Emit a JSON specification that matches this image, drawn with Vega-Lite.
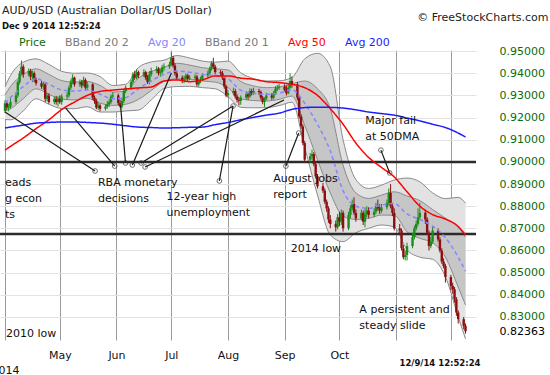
{
"$schema": "https://vega.github.io/schema/vega-lite/v6.json",
"width": 476, "height": 290,
"autosize": {"type": "none"},
"padding": {"left": 0, "top": 50, "right": 74, "bottom": 35},
"background": "white",
"config": {
  "view": {"stroke": null},
  "font": "DejaVu Sans",
  "axis": {"labelFont": "DejaVu Sans", "titleFont": "DejaVu Sans", "labelOverlap": false},
  "legend": {"labelFont": "DejaVu Sans"},
  "title": {"font": "DejaVu Sans", "subtitleFont": "DejaVu Sans"}
},
"title": {"text": "AUD/USD (Australian Dollar/US Dollar)", "subtitle": "Dec 9 2014 12:52:24", "anchor": "start", "frame": "group", "orient": "top", "fontSize": 11, "fontWeight": "normal", "color": "#222222", "subtitleFontSize": 8.5, "subtitleFontWeight": "bold", "subtitleColor": "#111111", "subtitlePadding": 6, "offset": 17, "dx": 2, "dy": 36},
"datasets": {
"candles": [
{"d":"2014-04-01","o":0.9230,"h":0.9280,"l":0.9220,"c":0.9265},
{"d":"2014-04-02","o":0.9265,"h":0.9275,"l":0.9235,"c":0.9245},
{"d":"2014-04-03","o":0.9245,"h":0.9262,"l":0.9228,"c":0.9250},
{"d":"2014-04-04","o":0.9250,"h":0.9292,"l":0.9240,"c":0.9270},
{"d":"2014-04-07","o":0.9270,"h":0.9310,"l":0.9262,"c":0.9300},
{"d":"2014-04-08","o":0.9300,"h":0.9368,"l":0.9290,"c":0.9360},
{"d":"2014-04-09","o":0.9360,"h":0.9410,"l":0.9350,"c":0.9400},
{"d":"2014-04-10","o":0.9400,"h":0.9458,"l":0.9392,"c":0.9430},
{"d":"2014-04-11","o":0.9430,"h":0.9440,"l":0.9380,"c":0.9395},
{"d":"2014-04-14","o":0.9395,"h":0.9422,"l":0.9385,"c":0.9410},
{"d":"2014-04-15","o":0.9410,"h":0.9420,"l":0.9370,"c":0.9385},
{"d":"2014-04-16","o":0.9385,"h":0.9412,"l":0.9360,"c":0.9400},
{"d":"2014-04-17","o":0.9400,"h":0.9408,"l":0.9360,"c":0.9370},
{"d":"2014-04-18","o":0.9370,"h":0.9380,"l":0.9345,"c":0.9355},
{"d":"2014-04-21","o":0.9355,"h":0.9365,"l":0.9330,"c":0.9340},
{"d":"2014-04-22","o":0.9340,"h":0.9362,"l":0.9325,"c":0.9350},
{"d":"2014-04-23","o":0.9350,"h":0.9358,"l":0.9270,"c":0.9285},
{"d":"2014-04-24","o":0.9285,"h":0.9312,"l":0.9275,"c":0.9300},
{"d":"2014-04-25","o":0.9300,"h":0.9310,"l":0.9262,"c":0.9270},
{"d":"2014-04-28","o":0.9270,"h":0.9295,"l":0.9260,"c":0.9285},
{"d":"2014-04-29","o":0.9285,"h":0.9298,"l":0.9258,"c":0.9270},
{"d":"2014-04-30","o":0.9270,"h":0.9296,"l":0.9250,"c":0.9285},
{"d":"2014-05-01","o":0.9285,"h":0.9300,"l":0.9262,"c":0.9270},
{"d":"2014-05-02","o":0.9270,"h":0.9305,"l":0.9258,"c":0.9295},
{"d":"2014-05-05","o":0.9295,"h":0.9315,"l":0.9280,"c":0.9300},
{"d":"2014-05-06","o":0.9300,"h":0.9345,"l":0.9290,"c":0.9335},
{"d":"2014-05-07","o":0.9335,"h":0.9372,"l":0.9325,"c":0.9360},
{"d":"2014-05-08","o":0.9360,"h":0.9395,"l":0.9350,"c":0.9380},
{"d":"2014-05-09","o":0.9380,"h":0.9385,"l":0.9340,"c":0.9350},
{"d":"2014-05-12","o":0.9350,"h":0.9372,"l":0.9338,"c":0.9360},
{"d":"2014-05-13","o":0.9360,"h":0.9370,"l":0.9332,"c":0.9345},
{"d":"2014-05-14","o":0.9345,"h":0.9385,"l":0.9340,"c":0.9370},
{"d":"2014-05-15","o":0.9370,"h":0.9378,"l":0.9322,"c":0.9335},
{"d":"2014-05-16","o":0.9335,"h":0.9362,"l":0.9325,"c":0.9350},
{"d":"2014-05-19","o":0.9350,"h":0.9355,"l":0.9280,"c":0.9290},
{"d":"2014-05-20","o":0.9290,"h":0.9300,"l":0.9262,"c":0.9275},
{"d":"2014-05-21","o":0.9275,"h":0.9285,"l":0.9238,"c":0.9245},
{"d":"2014-05-22","o":0.9245,"h":0.9268,"l":0.9235,"c":0.9255},
{"d":"2014-05-23","o":0.9255,"h":0.9262,"l":0.9228,"c":0.9240},
{"d":"2014-05-26","o":0.9240,"h":0.9260,"l":0.9232,"c":0.9250},
{"d":"2014-05-27","o":0.9250,"h":0.9275,"l":0.9240,"c":0.9260},
{"d":"2014-05-28","o":0.9260,"h":0.9282,"l":0.9248,"c":0.9270},
{"d":"2014-05-29","o":0.9270,"h":0.9305,"l":0.9262,"c":0.9295},
{"d":"2014-05-30","o":0.9295,"h":0.9315,"l":0.9285,"c":0.9300},
{"d":"2014-06-02","o":0.9300,"h":0.9308,"l":0.9255,"c":0.9265},
{"d":"2014-06-03","o":0.9265,"h":0.9280,"l":0.9245,"c":0.9250},
{"d":"2014-06-04","o":0.9250,"h":0.9290,"l":0.9242,"c":0.9275},
{"d":"2014-06-05","o":0.9275,"h":0.9330,"l":0.9265,"c":0.9320},
{"d":"2014-06-06","o":0.9320,"h":0.9345,"l":0.9310,"c":0.9335},
{"d":"2014-06-09","o":0.9335,"h":0.9370,"l":0.9325,"c":0.9360},
{"d":"2014-06-10","o":0.9360,"h":0.9405,"l":0.9350,"c":0.9395},
{"d":"2014-06-11","o":0.9395,"h":0.9410,"l":0.9370,"c":0.9380},
{"d":"2014-06-12","o":0.9380,"h":0.9418,"l":0.9372,"c":0.9405},
{"d":"2014-06-13","o":0.9405,"h":0.9412,"l":0.9378,"c":0.9390},
{"d":"2014-06-16","o":0.9390,"h":0.9418,"l":0.9382,"c":0.9405},
{"d":"2014-06-17","o":0.9405,"h":0.9412,"l":0.9370,"c":0.9380},
{"d":"2014-06-18","o":0.9380,"h":0.9392,"l":0.9352,"c":0.9360},
{"d":"2014-06-19","o":0.9360,"h":0.9410,"l":0.9350,"c":0.9395},
{"d":"2014-06-20","o":0.9395,"h":0.9425,"l":0.9385,"c":0.9410},
{"d":"2014-06-23","o":0.9410,"h":0.9432,"l":0.9400,"c":0.9420},
{"d":"2014-06-24","o":0.9420,"h":0.9428,"l":0.9390,"c":0.9400},
{"d":"2014-06-25","o":0.9400,"h":0.9418,"l":0.9385,"c":0.9405},
{"d":"2014-06-26","o":0.9405,"h":0.9438,"l":0.9395,"c":0.9425},
{"d":"2014-06-27","o":0.9425,"h":0.9445,"l":0.9412,"c":0.9430},
{"d":"2014-06-30","o":0.9430,"h":0.9452,"l":0.9420,"c":0.9440},
{"d":"2014-07-01","o":0.9440,"h":0.9498,"l":0.9432,"c":0.9470},
{"d":"2014-07-02","o":0.9470,"h":0.9478,"l":0.9425,"c":0.9435},
{"d":"2014-07-03","o":0.9435,"h":0.9445,"l":0.9390,"c":0.9400},
{"d":"2014-07-04","o":0.9400,"h":0.9410,"l":0.9370,"c":0.9380},
{"d":"2014-07-07","o":0.9380,"h":0.9390,"l":0.9355,"c":0.9365},
{"d":"2014-07-08","o":0.9365,"h":0.9388,"l":0.9355,"c":0.9375},
{"d":"2014-07-09","o":0.9375,"h":0.9400,"l":0.9362,"c":0.9390},
{"d":"2014-07-10","o":0.9390,"h":0.9398,"l":0.9365,"c":0.9375},
{"d":"2014-07-11","o":0.9375,"h":0.9392,"l":0.9368,"c":0.9380},
{"d":"2014-07-14","o":0.9380,"h":0.9395,"l":0.9370,"c":0.9385},
{"d":"2014-07-15","o":0.9385,"h":0.9392,"l":0.9340,"c":0.9350},
{"d":"2014-07-16","o":0.9350,"h":0.9375,"l":0.9340,"c":0.9365},
{"d":"2014-07-17","o":0.9365,"h":0.9385,"l":0.9355,"c":0.9375},
{"d":"2014-07-18","o":0.9375,"h":0.9400,"l":0.9365,"c":0.9390},
{"d":"2014-07-21","o":0.9390,"h":0.9412,"l":0.9380,"c":0.9400},
{"d":"2014-07-22","o":0.9400,"h":0.9430,"l":0.9392,"c":0.9420},
{"d":"2014-07-23","o":0.9420,"h":0.9455,"l":0.9412,"c":0.9445},
{"d":"2014-07-24","o":0.9445,"h":0.9470,"l":0.9420,"c":0.9430},
{"d":"2014-07-25","o":0.9430,"h":0.9438,"l":0.9395,"c":0.9405},
{"d":"2014-07-28","o":0.9405,"h":0.9415,"l":0.9388,"c":0.9400},
{"d":"2014-07-29","o":0.9400,"h":0.9410,"l":0.9370,"c":0.9380},
{"d":"2014-07-30","o":0.9380,"h":0.9388,"l":0.9330,"c":0.9340},
{"d":"2014-07-31","o":0.9340,"h":0.9348,"l":0.9292,"c":0.9300},
{"d":"2014-08-01","o":0.9300,"h":0.9325,"l":0.9290,"c":0.9310},
{"d":"2014-08-04","o":0.9310,"h":0.9335,"l":0.9300,"c":0.9320},
{"d":"2014-08-05","o":0.9320,"h":0.9330,"l":0.9285,"c":0.9295},
{"d":"2014-08-06","o":0.9295,"h":0.9305,"l":0.9268,"c":0.9280},
{"d":"2014-08-07","o":0.9280,"h":0.9290,"l":0.9255,"c":0.9275},
{"d":"2014-08-08","o":0.9275,"h":0.9300,"l":0.9258,"c":0.9290},
{"d":"2014-08-11","o":0.9290,"h":0.9318,"l":0.9282,"c":0.9305},
{"d":"2014-08-12","o":0.9305,"h":0.9315,"l":0.9280,"c":0.9295},
{"d":"2014-08-13","o":0.9295,"h":0.9332,"l":0.9288,"c":0.9320},
{"d":"2014-08-14","o":0.9320,"h":0.9330,"l":0.9300,"c":0.9310},
{"d":"2014-08-15","o":0.9310,"h":0.9335,"l":0.9302,"c":0.9320},
{"d":"2014-08-18","o":0.9320,"h":0.9330,"l":0.9302,"c":0.9315},
{"d":"2014-08-19","o":0.9315,"h":0.9322,"l":0.9280,"c":0.9290},
{"d":"2014-08-20","o":0.9290,"h":0.9298,"l":0.9260,"c":0.9270},
{"d":"2014-08-21","o":0.9270,"h":0.9292,"l":0.9248,"c":0.9285},
{"d":"2014-08-22","o":0.9285,"h":0.9312,"l":0.9278,"c":0.9300},
{"d":"2014-08-25","o":0.9300,"h":0.9310,"l":0.9280,"c":0.9290},
{"d":"2014-08-26","o":0.9290,"h":0.9320,"l":0.9282,"c":0.9310},
{"d":"2014-08-27","o":0.9310,"h":0.9342,"l":0.9302,"c":0.9330},
{"d":"2014-08-28","o":0.9330,"h":0.9348,"l":0.9320,"c":0.9335},
{"d":"2014-08-29","o":0.9335,"h":0.9352,"l":0.9325,"c":0.9340},
{"d":"2014-09-01","o":0.9340,"h":0.9350,"l":0.9318,"c":0.9325},
{"d":"2014-09-02","o":0.9325,"h":0.9345,"l":0.9300,"c":0.9310},
{"d":"2014-09-03","o":0.9310,"h":0.9348,"l":0.9305,"c":0.9335},
{"d":"2014-09-04","o":0.9335,"h":0.9400,"l":0.9330,"c":0.9365},
{"d":"2014-09-05","o":0.9365,"h":0.9385,"l":0.9335,"c":0.9350},
{"d":"2014-09-08","o":0.9350,"h":0.9360,"l":0.9278,"c":0.9290},
{"d":"2014-09-09","o":0.9290,"h":0.9298,"l":0.9195,"c":0.9205},
{"d":"2014-09-10","o":0.9205,"h":0.9215,"l":0.9150,"c":0.9160},
{"d":"2014-09-11","o":0.9160,"h":0.9170,"l":0.9075,"c":0.9085},
{"d":"2014-09-12","o":0.9085,"h":0.9095,"l":0.8998,"c":0.9010},
{"d":"2014-09-15","o":0.9010,"h":0.9040,"l":0.8995,"c":0.9025},
{"d":"2014-09-16","o":0.9025,"h":0.9055,"l":0.9010,"c":0.9035},
{"d":"2014-09-17","o":0.9035,"h":0.9045,"l":0.8980,"c":0.8990},
{"d":"2014-09-18","o":0.8990,"h":0.9000,"l":0.8925,"c":0.8935},
{"d":"2014-09-19","o":0.8935,"h":0.8945,"l":0.8880,"c":0.8890},
{"d":"2014-09-22","o":0.8890,"h":0.8905,"l":0.8860,"c":0.8870},
{"d":"2014-09-23","o":0.8870,"h":0.8880,"l":0.8810,"c":0.8820},
{"d":"2014-09-24","o":0.8820,"h":0.8830,"l":0.8775,"c":0.8790},
{"d":"2014-09-25","o":0.8790,"h":0.8800,"l":0.8725,"c":0.8740},
{"d":"2014-09-26","o":0.8740,"h":0.8760,"l":0.8700,"c":0.8720},
{"d":"2014-09-29","o":0.8720,"h":0.8735,"l":0.8685,"c":0.8705},
{"d":"2014-09-30","o":0.8705,"h":0.8765,"l":0.8695,"c":0.8750},
{"d":"2014-10-01","o":0.8750,"h":0.8775,"l":0.8710,"c":0.8730},
{"d":"2014-10-02","o":0.8730,"h":0.8785,"l":0.8715,"c":0.8770},
{"d":"2014-10-03","o":0.8770,"h":0.8780,"l":0.8685,"c":0.8700},
{"d":"2014-10-06","o":0.8700,"h":0.8775,"l":0.8692,"c":0.8760},
{"d":"2014-10-07","o":0.8760,"h":0.8805,"l":0.8745,"c":0.8790},
{"d":"2014-10-08","o":0.8790,"h":0.8830,"l":0.8780,"c":0.8810},
{"d":"2014-10-09","o":0.8810,"h":0.8840,"l":0.8760,"c":0.8770},
{"d":"2014-10-10","o":0.8770,"h":0.8785,"l":0.8730,"c":0.8745},
{"d":"2014-10-13","o":0.8745,"h":0.8785,"l":0.8735,"c":0.8770},
{"d":"2014-10-14","o":0.8770,"h":0.8780,"l":0.8715,"c":0.8730},
{"d":"2014-10-15","o":0.8730,"h":0.8790,"l":0.8705,"c":0.8765},
{"d":"2014-10-16","o":0.8765,"h":0.8800,"l":0.8750,"c":0.8780},
{"d":"2014-10-17","o":0.8780,"h":0.8795,"l":0.8745,"c":0.8760},
{"d":"2014-10-20","o":0.8760,"h":0.8790,"l":0.8750,"c":0.8775},
{"d":"2014-10-21","o":0.8775,"h":0.8815,"l":0.8765,"c":0.8800},
{"d":"2014-10-22","o":0.8800,"h":0.8830,"l":0.8780,"c":0.8790},
{"d":"2014-10-23","o":0.8790,"h":0.8810,"l":0.8765,"c":0.8780},
{"d":"2014-10-24","o":0.8780,"h":0.8810,"l":0.8770,"c":0.8795},
{"d":"2014-10-27","o":0.8795,"h":0.8830,"l":0.8785,"c":0.8815},
{"d":"2014-10-28","o":0.8815,"h":0.8880,"l":0.8805,"c":0.8860},
{"d":"2014-10-29","o":0.8860,"h":0.8900,"l":0.8790,"c":0.8800},
{"d":"2014-10-30","o":0.8800,"h":0.8815,"l":0.8755,"c":0.8770},
{"d":"2014-10-31","o":0.8770,"h":0.8790,"l":0.8690,"c":0.8700},
{"d":"2014-11-03","o":0.8700,"h":0.8720,"l":0.8670,"c":0.8690},
{"d":"2014-11-04","o":0.8690,"h":0.8700,"l":0.8600,"c":0.8610},
{"d":"2014-11-05","o":0.8610,"h":0.8625,"l":0.8560,"c":0.8570},
{"d":"2014-11-06","o":0.8570,"h":0.8600,"l":0.8555,"c":0.8580},
{"d":"2014-11-07","o":0.8580,"h":0.8635,"l":0.8555,"c":0.8620},
{"d":"2014-11-10","o":0.8620,"h":0.8680,"l":0.8610,"c":0.8660},
{"d":"2014-11-11","o":0.8660,"h":0.8712,"l":0.8650,"c":0.8700},
{"d":"2014-11-12","o":0.8700,"h":0.8735,"l":0.8690,"c":0.8720},
{"d":"2014-11-13","o":0.8720,"h":0.8790,"l":0.8710,"c":0.8750},
{"d":"2014-11-14","o":0.8750,"h":0.8815,"l":0.8740,"c":0.8770},
{"d":"2014-11-17","o":0.8770,"h":0.8785,"l":0.8720,"c":0.8740},
{"d":"2014-11-18","o":0.8740,"h":0.8750,"l":0.8670,"c":0.8680},
{"d":"2014-11-19","o":0.8680,"h":0.8690,"l":0.8600,"c":0.8620},
{"d":"2014-11-20","o":0.8620,"h":0.8660,"l":0.8610,"c":0.8640},
{"d":"2014-11-21","o":0.8640,"h":0.8706,"l":0.8630,"c":0.8690},
{"d":"2014-11-24","o":0.8690,"h":0.8700,"l":0.8640,"c":0.8650},
{"d":"2014-11-25","o":0.8650,"h":0.8660,"l":0.8590,"c":0.8600},
{"d":"2014-11-26","o":0.8600,"h":0.8610,"l":0.8540,"c":0.8550},
{"d":"2014-11-27","o":0.8550,"h":0.8565,"l":0.8520,"c":0.8530},
{"d":"2014-11-28","o":0.8530,"h":0.8540,"l":0.8455,"c":0.8480},
{"d":"2014-12-01","o":0.8480,"h":0.8490,"l":0.8420,"c":0.8440},
{"d":"2014-12-02","o":0.8440,"h":0.8455,"l":0.8405,"c":0.8425},
{"d":"2014-12-03","o":0.8425,"h":0.8435,"l":0.8365,"c":0.8380},
{"d":"2014-12-04","o":0.8380,"h":0.8390,"l":0.8305,"c":0.8320},
{"d":"2014-12-05","o":0.8320,"h":0.8330,"l":0.8270,"c":0.8290},
{"d":"2014-12-08","o":0.8290,"h":0.8300,"l":0.8245,"c":0.8260},
{"d":"2014-12-09","o":0.8260,"h":0.8270,"l":0.8225,"c":0.8236}
],
"ind": [
{"d":"2014-04-01","u2":0.9339,"u1":0.9302,"Avg 20":0.9265,"l1":0.9228,"l2":0.9191,"Avg 50":0.9053,"Avg 200":0.9153},
{"d":"2014-04-04","u2":0.9390,"u1":0.9340,"Avg 20":0.9290,"l1":0.9240,"l2":0.9190,"Avg 50":0.9070,"Avg 200":0.9157},
{"d":"2014-04-11","u2":0.9450,"u1":0.9395,"Avg 20":0.9340,"l1":0.9285,"l2":0.9230,"Avg 50":0.9108,"Avg 200":0.9166},
{"d":"2014-04-18","u2":0.9465,"u1":0.9420,"Avg 20":0.9375,"l1":0.9330,"l2":0.9285,"Avg 50":0.9150,"Avg 200":0.9175},
{"d":"2014-04-25","u2":0.9440,"u1":0.9395,"Avg 20":0.9350,"l1":0.9305,"l2":0.9260,"Avg 50":0.9190,"Avg 200":0.9178},
{"d":"2014-05-02","u2":0.9409,"u1":0.9367,"Avg 20":0.9325,"l1":0.9283,"l2":0.9241,"Avg 50":0.9236,"Avg 200":0.9180},
{"d":"2014-05-09","u2":0.9400,"u1":0.9360,"Avg 20":0.9320,"l1":0.9280,"l2":0.9240,"Avg 50":0.9270,"Avg 200":0.9180},
{"d":"2014-05-16","u2":0.9401,"u1":0.9363,"Avg 20":0.9325,"l1":0.9287,"l2":0.9249,"Avg 50":0.9300,"Avg 200":0.9178},
{"d":"2014-05-23","u2":0.9385,"u1":0.9345,"Avg 20":0.9305,"l1":0.9265,"l2":0.9225,"Avg 50":0.9318,"Avg 200":0.9175},
{"d":"2014-05-30","u2":0.9345,"u1":0.9315,"Avg 20":0.9285,"l1":0.9255,"l2":0.9225,"Avg 50":0.9324,"Avg 200":0.9170},
{"d":"2014-06-06","u2":0.9350,"u1":0.9320,"Avg 20":0.9290,"l1":0.9260,"l2":0.9230,"Avg 50":0.9329,"Avg 200":0.9163},
{"d":"2014-06-13","u2":0.9426,"u1":0.9378,"Avg 20":0.9330,"l1":0.9282,"l2":0.9234,"Avg 50":0.9334,"Avg 200":0.9157},
{"d":"2014-06-20","u2":0.9451,"u1":0.9408,"Avg 20":0.9365,"l1":0.9322,"l2":0.9279,"Avg 50":0.9338,"Avg 200":0.9155},
{"d":"2014-06-27","u2":0.9459,"u1":0.9427,"Avg 20":0.9395,"l1":0.9363,"l2":0.9331,"Avg 50":0.9365,"Avg 200":0.9153},
{"d":"2014-07-04","u2":0.9480,"u1":0.9445,"Avg 20":0.9410,"l1":0.9375,"l2":0.9340,"Avg 50":0.9370,"Avg 200":0.9154},
{"d":"2014-07-11","u2":0.9469,"u1":0.9437,"Avg 20":0.9405,"l1":0.9373,"l2":0.9341,"Avg 50":0.9362,"Avg 200":0.9156},
{"d":"2014-07-18","u2":0.9455,"u1":0.9425,"Avg 20":0.9395,"l1":0.9365,"l2":0.9335,"Avg 50":0.9370,"Avg 200":0.9157},
{"d":"2014-07-25","u2":0.9450,"u1":0.9420,"Avg 20":0.9390,"l1":0.9360,"l2":0.9330,"Avg 50":0.9388,"Avg 200":0.9168},
{"d":"2014-08-01","u2":0.9455,"u1":0.9415,"Avg 20":0.9375,"l1":0.9335,"l2":0.9295,"Avg 50":0.9388,"Avg 200":0.9178},
{"d":"2014-08-08","u2":0.9402,"u1":0.9363,"Avg 20":0.9324,"l1":0.9285,"l2":0.9246,"Avg 50":0.9378,"Avg 200":0.9190},
{"d":"2014-08-15","u2":0.9376,"u1":0.9343,"Avg 20":0.9310,"l1":0.9277,"l2":0.9244,"Avg 50":0.9373,"Avg 200":0.9201},
{"d":"2014-08-22","u2":0.9365,"u1":0.9335,"Avg 20":0.9305,"l1":0.9275,"l2":0.9245,"Avg 50":0.9362,"Avg 200":0.9211},
{"d":"2014-08-29","u2":0.9366,"u1":0.9338,"Avg 20":0.9310,"l1":0.9282,"l2":0.9254,"Avg 50":0.9358,"Avg 200":0.9220},
{"d":"2014-09-05","u2":0.9381,"u1":0.9353,"Avg 20":0.9325,"l1":0.9297,"l2":0.9269,"Avg 50":0.9350,"Avg 200":0.9237},
{"d":"2014-09-12","u2":0.9465,"u1":0.9365,"Avg 20":0.9265,"l1":0.9165,"l2":0.9065,"Avg 50":0.9335,"Avg 200":0.9245},
{"d":"2014-09-19","u2":0.9490,"u1":0.9330,"Avg 20":0.9170,"l1":0.9010,"l2":0.8850,"Avg 50":0.9300,"Avg 200":0.9247},
{"d":"2014-09-26","u2":0.9430,"u1":0.9240,"Avg 20":0.9050,"l1":0.8860,"l2":0.8670,"Avg 50":0.9240,"Avg 200":0.9246},
{"d":"2014-10-03","u2":0.9100,"u1":0.8985,"Avg 20":0.8870,"l1":0.8755,"l2":0.8640,"Avg 50":0.9170,"Avg 200":0.9243},
{"d":"2014-10-10","u2":0.8920,"u1":0.8860,"Avg 20":0.8800,"l1":0.8740,"l2":0.8680,"Avg 50":0.9085,"Avg 200":0.9235},
{"d":"2014-10-17","u2":0.8880,"u1":0.8835,"Avg 20":0.8790,"l1":0.8745,"l2":0.8700,"Avg 50":0.9020,"Avg 200":0.9225},
{"d":"2014-10-24","u2":0.8895,"u1":0.8850,"Avg 20":0.8805,"l1":0.8760,"l2":0.8715,"Avg 50":0.8975,"Avg 200":0.9218},
{"d":"2014-10-31","u2":0.8918,"u1":0.8865,"Avg 20":0.8812,"l1":0.8759,"l2":0.8706,"Avg 50":0.8932,"Avg 200":0.9211},
{"d":"2014-11-07","u2":0.8927,"u1":0.8846,"Avg 20":0.8765,"l1":0.8684,"l2":0.8603,"Avg 50":0.8865,"Avg 200":0.9198},
{"d":"2014-11-14","u2":0.8910,"u1":0.8825,"Avg 20":0.8740,"l1":0.8655,"l2":0.8570,"Avg 50":0.8800,"Avg 200":0.9185},
{"d":"2014-11-21","u2":0.8860,"u1":0.8785,"Avg 20":0.8710,"l1":0.8635,"l2":0.8560,"Avg 50":0.8762,"Avg 200":0.9170},
{"d":"2014-11-28","u2":0.8834,"u1":0.8746,"Avg 20":0.8658,"l1":0.8570,"l2":0.8482,"Avg 50":0.8742,"Avg 200":0.9155},
{"d":"2014-12-05","u2":0.8840,"u1":0.8705,"Avg 20":0.8570,"l1":0.8435,"l2":0.8300,"Avg 50":0.8708,"Avg 200":0.9130},
{"d":"2014-12-09","u2":0.8813,"u1":0.8660,"Avg 20":0.8507,"l1":0.8354,"l2":0.8201,"Avg 50":0.8670,"Avg 200":0.9112}
],
"alines": [
{"id":"A","d":"2014-04-01T00:00:00Z","v":0.9225},{"id":"A","d":"2014-05-20T07:00:00Z","v":0.8959},
{"id":"B","d":"2014-05-04T05:00:00Z","v":0.9243},{"id":"B","d":"2014-05-31T01:00:00Z","v":0.8981},
{"id":"C","d":"2014-06-03T05:00:00Z","v":0.9256},{"id":"C","d":"2014-06-05T23:00:00Z","v":0.8995},
{"id":"D","d":"2014-07-01T01:00:00Z","v":0.9401},{"id":"D","d":"2014-06-09T17:00:00Z","v":0.8986},
{"id":"E","d":"2014-08-03T19:00:00Z","v":0.9252},{"id":"E","d":"2014-06-14T12:00:00Z","v":0.8995},
{"id":"F","d":"2014-08-31T16:00:00Z","v":0.9279},{"id":"F","d":"2014-06-16T16:00:00Z","v":0.8977},
{"id":"G","d":"2014-08-03T19:00:00Z","v":0.9252},{"id":"G","d":"2014-07-27T07:00:00Z","v":0.8914},
{"id":"H","d":"2014-09-08T17:00:00Z","v":0.9130},{"id":"H","d":"2014-09-01T17:00:00Z","v":0.8981},
{"id":"I","d":"2014-10-23T17:00:00Z","v":0.9053},{"id":"I","d":"2014-10-28T12:00:00Z","v":0.8950}
],
"acircles": [
{"d":"2014-05-20T07:00:00Z","v":0.8959},{"d":"2014-05-31T01:00:00Z","v":0.8981},
{"d":"2014-06-05T23:00:00Z","v":0.8995},{"d":"2014-06-09T17:00:00Z","v":0.8986},
{"d":"2014-06-14T12:00:00Z","v":0.8995},{"d":"2014-06-16T16:00:00Z","v":0.8977},
{"d":"2014-07-27T07:00:00Z","v":0.8914},{"d":"2014-08-03T19:00:00Z","v":0.9252},
{"d":"2014-09-01T17:00:00Z","v":0.8981},{"d":"2014-09-08T17:00:00Z","v":0.9130},
{"d":"2014-10-23T17:00:00Z","v":0.9053},{"d":"2014-10-28T12:00:00Z","v":0.8950}
],
"texts": [
{"d":"2014-04-01T00:00:00Z","v":0.8889,"t":"eads\ng econ\nts"},
{"d":"2014-05-21T21:00:00Z","v":0.8889,"t":"RBA monetary\ndecisions"},
{"d":"2014-06-28T09:00:00Z","v":0.8830,"t":"12-year high\nunemployment"},
{"d":"2014-08-25T18:00:00Z","v":0.8907,"t":"August jobs\nreport"},
{"d":"2014-10-15T03:00:00Z","v":0.9173,"t":"Major fail\nat 50DMA"},
{"d":"2014-09-04T10:00:00Z","v":0.8591,"t":"2014 low"},
{"d":"2014-10-11T22:00:00Z","v":0.8316,"t":"A persistent and\nsteady slide"},
{"d":"2014-04-01T12:00:00Z","v":0.8208,"t":"2010 low"}
]
},
"layer": [
{"layer": [
  {"data": {"name": "ind"},
   "mark": {"type": "area", "interpolate": "monotone", "color": "#e2e2e2", "opacity": 1},
   "encoding": {
     "x": {"field": "d", "type": "temporal",
       "scale": {"type": "utc", "domain": [{"year": 2014, "month": 4, "date": 1, "utc": true}, {"year": 2014, "month": 12, "date": 12, "utc": true}]},
       "axis": {"title": null, "orient": "bottom", "tickCount": 20,
         "values": [{"year":2014,"month":4,"date":1,"utc":true},{"year":2014,"month":5,"date":1,"utc":true},{"year":2014,"month":6,"date":1,"utc":true},{"year":2014,"month":7,"date":1,"utc":true},{"year":2014,"month":8,"date":1,"utc":true},{"year":2014,"month":9,"date":1,"utc":true},{"year":2014,"month":10,"date":1,"utc":true},{"year":2014,"month":11,"date":1,"utc":true},{"year":2014,"month":12,"date":1,"utc":true}],
         "labelExpr": "utcmonth(datum.value) === 3 ? ['', '2014'] : (utcmonth(datum.value) >= 10 ? '' : utcFormat(datum.value, '%b'))",
         "grid": true, "gridColor": "#9a9a9a", "gridWidth": 1, "ticks": false, "domain": false,
         "labelPadding": 9, "labelFontSize": 11, "labelColor": "#111111", "labelFlush": false, "labelOverlap": false, "labelBound": false, "labelLineHeight": 15, "labelBaseline": "top"}},
     "y": {"field": "u2", "type": "quantitative",
       "scale": {"domain": [0.8196, 0.9505], "nice": false, "zero": false},
       "axis": {"title": null, "orient": "right", "tickCount": 30, "values": [0.83,0.84,0.85,0.86,0.87,0.88,0.89,0.9,0.91,0.92,0.93,0.94,0.95], "format": ".5f",
         "grid": true, "gridColor": "#e3e3e3", "ticks": false, "domain": false, "labelPadding": 23, "labelFontSize": 11, "labelColor": "#0b6b0b", "labelOverlap": false, "labelFlush": false}},
     "y2": {"field": "l2"}
   }},
  {"data": {"name": "ind"},
   "mark": {"type": "area", "interpolate": "monotone", "color": "#c6c6c6", "opacity": 1},
   "encoding": {"x": {"field": "d", "type": "temporal"}, "y": {"field": "u1", "type": "quantitative"}, "y2": {"field": "l1"}}},
  {"data": {"name": "ind"},
   "transform": [{"fold": ["u2", "u1", "l1", "l2"], "as": ["k", "v"]}],
   "mark": {"type": "line", "interpolate": "monotone", "color": "#8a8a8a", "strokeWidth": 1},
   "encoding": {"x": {"field": "d", "type": "temporal"}, "y": {"field": "v", "type": "quantitative"}, "detail": {"field": "k"}}},
  {"data": {"values": [{"lvl": 0.9}, {"lvl": 0.8675}]},
   "mark": {"type": "rule", "color": "#2b2b2b", "strokeWidth": 2.5},
   "encoding": {"y": {"field": "lvl", "type": "quantitative"}}},
  {"data": {"name": "candles"},
   "mark": {"type": "rule", "strokeWidth": 1},
   "encoding": {"x": {"field": "d", "type": "temporal"}, "y": {"field": "l", "type": "quantitative"}, "y2": {"field": "h"},
     "color": {"condition": {"test": "datum.c >= datum.o", "value": "#1a8c1a"}, "value": "#8b0f0f"}}},
  {"data": {"name": "candles"},
   "mark": {"type": "bar", "size": 2.4},
   "encoding": {"x": {"field": "d", "type": "temporal"}, "y": {"field": "o", "type": "quantitative"}, "y2": {"field": "c"},
     "color": {"condition": {"test": "datum.c >= datum.o", "value": "#1a8c1a"}, "value": "#8b0f0f"}}},
  {"data": {"name": "ind"},
   "transform": [{"fold": ["Avg 20", "Avg 50", "Avg 200"], "as": ["k", "v"]}],
   "mark": {"type": "line", "interpolate": "monotone", "strokeWidth": 1.5},
   "encoding": {"x": {"field": "d", "type": "temporal"}, "y": {"field": "v", "type": "quantitative"},
     "color": {"field": "k", "type": "nominal",
       "scale": {"domain": ["Price", "BBand 20 2", "Avg 20", "BBand 20 1", "Avg 50", "Avg 200"], "range": ["#0b6b0b", "#808080", "#8585ff", "#808080", "#ff0000", "#1c1cff"]},
       "legend": {"orient": "none", "legendX": 8, "legendY": -13, "direction": "horizontal", "title": null, "symbolSize": 0, "symbolStrokeWidth": 0, "symbolOpacity": 0, "labelOffset": 0, "columnPadding": 8, "labelFontSize": 11, "padding": 0, "labelLimit": 300,
         "labelColor": {"expr": "datum.label === 'Price' ? '#0b6b0b' : datum.label === 'Avg 20' ? '#8585ff' : datum.label === 'Avg 50' ? '#ff0000' : datum.label === 'Avg 200' ? '#1c1cff' : '#7a7a7a'"}}},
     "strokeDash": {"condition": {"test": "datum.k === 'Avg 20'", "value": [4, 3]}, "value": [1, 0]}}},
  {"data": {"name": "alines"},
   "mark": {"type": "line", "color": "#1a1a1a", "strokeWidth": 1.2},
   "encoding": {"x": {"field": "d", "type": "temporal"}, "y": {"field": "v", "type": "quantitative"}, "detail": {"field": "id"}}},
  {"data": {"name": "acircles"},
   "mark": {"type": "point", "shape": "circle", "filled": false, "color": "#333333", "size": 22, "strokeWidth": 1},
   "encoding": {"x": {"field": "d", "type": "temporal"}, "y": {"field": "v", "type": "quantitative"}}},
  {"data": {"name": "texts"},
   "mark": {"type": "text", "align": "left", "baseline": "alphabetic", "fontSize": 11, "lineBreak": "\n", "lineHeight": 16, "color": "#111111", "font": "DejaVu Sans"},
   "encoding": {"x": {"field": "d", "type": "temporal"}, "y": {"field": "v", "type": "quantitative"}, "text": {"field": "t"}}}
]},
{"data": {"values": [{"d": "2014-12-09T12:52:24Z", "v": 0.82363}]},
 "mark": {"type": "point", "opacity": 0},
 "encoding": {
   "x": {"field": "d", "type": "temporal",
     "axis": {"orient": "bottom", "title": null, "values": [{"year": 2014, "month": 12, "date": 9, "hours": 12, "minutes": 52, "seconds": 24, "utc": true}],
       "labelExpr": "'12/9/14 12:52:24'", "grid": false, "ticks": false, "domain": false, "labelPadding": 18, "labelFontSize": 8.5, "labelFontWeight": "bold", "labelColor": "#111111", "labelOffset": -27, "labelFlush": false, "labelOverlap": false}},
   "y": {"field": "v", "type": "quantitative",
     "axis": {"orient": "right", "values": [0.82363], "format": ".5f", "grid": false, "ticks": false, "domain": false, "labelPadding": 23, "labelFontSize": 11, "labelColor": "#000000", "labelOverlap": false,
       "title": "© FreeStockCharts.com", "titleAngle": 0, "titleX": 72, "titleY": -33, "titleAlign": "right", "titleBaseline": "middle", "titleFontSize": 11, "titleFontWeight": "normal", "titleColor": "#222222"}}
 }}
],
"resolve": {"axis": {"x": "independent", "y": "independent"}}
}
